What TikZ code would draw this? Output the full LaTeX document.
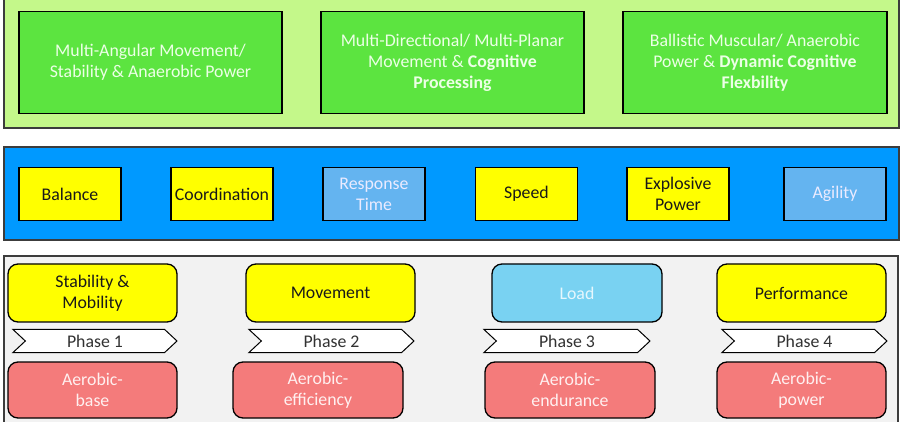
\documentclass[tikz,border=0pt]{standalone}
\usepackage{fontspec}
\setmainfont{Carlito}
\usetikzlibrary{shapes.symbols}

\definecolor{panelgreen}{RGB}{196,248,138}
\definecolor{boxgreen}{RGB}{92,228,64}
\definecolor{panelblue}{RGB}{0,153,255}
\definecolor{paleblue}{RGB}{100,180,240}
\definecolor{loadblue}{RGB}{121,210,242}
\definecolor{panelgray}{RGB}{242,242,242}
\definecolor{boxred}{RGB}{244,123,123}
\definecolor{boxyellow}{RGB}{255,255,0}
\definecolor{edgegray}{RGB}{60,60,60}
\definecolor{softwhite}{RGB}{236,255,230}
\definecolor{inkdark}{RGB}{25,25,25}
\definecolor{inkgray}{RGB}{50,50,50}

\tikzset{
  panel/.style={draw=edgegray, line width=1.4pt},
  bigbox/.style={draw=black, line width=1.6pt, fill=boxgreen, text=softwhite,
    inner sep=0pt, align=center, minimum height=102pt},
  skillbox/.style={draw=black, line width=1.6pt, inner sep=0pt, align=center,
    minimum width=102pt, minimum height=53pt},
  phasebox/.style={draw=black, line width=1.3pt, rounded corners=10pt,
    inner sep=0pt, align=center, minimum height=58pt},
  aerobox/.style={draw=black, line width=1.3pt, rounded corners=10pt, fill=boxred,
    text=white!94!red, inner sep=0pt, align=center, minimum height=56pt},
  chevron/.style={shape=signal, signal from=west, signal to=east,
    signal pointer angle=86, draw=black, line width=1pt, fill=white,
    text=inkgray, inner sep=0pt, minimum height=23pt},
}

\begin{document}
\begin{tikzpicture}[x=1pt, y=-1pt, font=\fontsize{17.8}{21}\selectfont]
\useasboundingbox (0,0) rectangle (903,422);

% three background bands
\draw[panel, fill=panelgreen] (4,-2) rectangle (899,128);
\draw[panel, fill=panelblue] (4,147) rectangle (899,240);
\draw[panel, fill=panelgray] (4,256) rectangle (898,430);

% training focus boxes
\node[bigbox, minimum width=263pt] (focusA) at (150.5,62.5)
  {Multi-Angular Movement/\\Stability \& Anaerobic Power};
\node[bigbox, minimum width=263pt] (focusB) at (452.5,62.5)
  {Multi-Directional/ Multi-Planar\\Movement \& \textbf{Cognitive}\\\textbf{Processing}};
\node[bigbox, minimum width=264pt] (focusC) at (755,62.5)
  {Ballistic Muscular/ Anaerobic\\Power \& \textbf{Dynamic Cognitive}\\\textbf{Flexbility}};

% motor skills
\node[skillbox, fill=boxyellow, text=inkdark] (balance) at (70,194) {Balance};
\node[skillbox, fill=boxyellow, text=inkdark] (coord) at (222,194) {Coordination};
\node[skillbox, fill=paleblue, text=white!92!blue] (resp) at (374,194) {Response\\Time};
\node[skillbox, fill=boxyellow, text=inkdark] (speed) at (526.5,194) {Speed};
\node[skillbox, fill=boxyellow, text=inkdark] (explo) at (678,194) {Explosive\\Power};
\node[skillbox, fill=paleblue, text=white!92!blue] (agil) at (835,194) {Agility};

% phase goals
\node[phasebox, fill=boxyellow, text=inkdark, minimum width=169pt] (stab) at (92.5,293) {Stability \&\\Mobility};
\node[phasebox, fill=boxyellow, text=inkdark, minimum width=169pt] (move) at (330.5,293) {Movement};
\node[phasebox, fill=loadblue, text=white!90!cyan, minimum width=170pt] (load) at (577,293) {Load};
\node[phasebox, fill=boxyellow, text=inkdark, minimum width=169pt] (perf) at (801.5,293) {Performance};

% phase chevrons
\node[chevron, minimum width=164pt] (ph1) at (95,341) {Phase 1};
\node[chevron, minimum width=165pt] (ph2) at (331.5,341) {Phase 2};
\node[chevron, minimum width=166pt] (ph3) at (567,341) {Phase 3};
\node[chevron, minimum width=165pt] (ph4) at (804.5,341) {Phase 4};

% aerobic blocks
\node[aerobox, minimum width=169pt] (aer1) at (92.5,390) {Aerobic-\\base};
\node[aerobox, minimum width=170pt] (aer2) at (318,390) {Aerobic-\\efficiency};
\node[aerobox, minimum width=170pt] (aer3) at (570,390) {Aerobic-\\endurance};
\node[aerobox, minimum width=169pt] (aer4) at (801.5,390) {Aerobic-\\power};
\end{tikzpicture}
\end{document}
